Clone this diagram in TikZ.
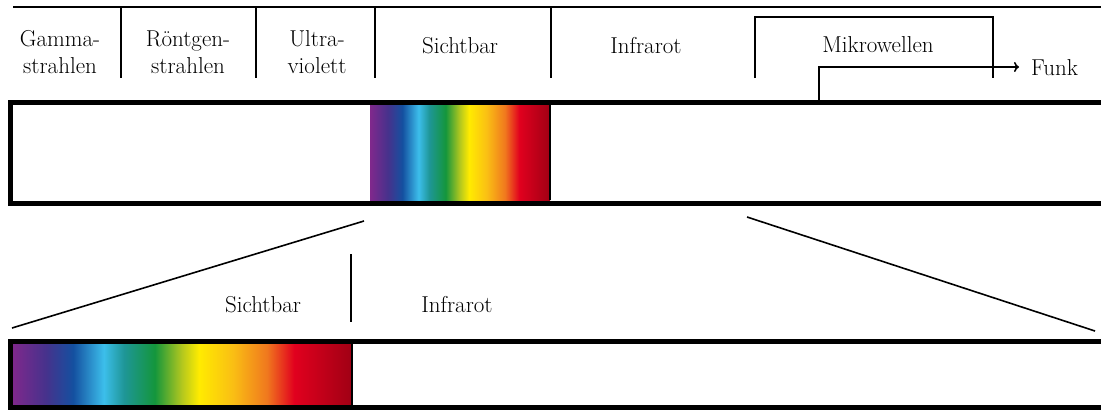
\documentclass[tikz,border=0pt]{standalone}
\usepackage{fontspec}
\usetikzlibrary{arrows.meta}
\definecolor{spA}{RGB}{128,40,140}
\definecolor{spB}{RGB}{70,50,140}
\definecolor{spC}{RGB}{20,80,160}
\definecolor{spD}{RGB}{60,190,235}
\definecolor{spE}{RGB}{30,150,150}
\definecolor{spF}{RGB}{20,150,60}
\definecolor{spG}{RGB}{180,200,30}
\definecolor{spH}{RGB}{255,235,0}
\definecolor{spI}{RGB}{250,190,20}
\definecolor{spJ}{RGB}{240,120,30}
\definecolor{spK}{RGB}{225,0,30}
\definecolor{spL}{RGB}{160,0,20}
\pgfdeclarehorizontalshading{spectrum}{100bp}{%
color(0bp)=(spA); color(25bp)=(spA); color(30bp)=(spB); color(34bp)=(spC);
color(38.5bp)=(spD); color(41.5bp)=(spE); color(46bp)=(spF); color(50bp)=(spG);
color(52.5bp)=(spH); color(57.5bp)=(spI); color(62.5bp)=(spJ); color(66.5bp)=(spK);
color(75bp)=(spL); color(100bp)=(spL)}
\begin{document}
\begin{tikzpicture}[x=1pt,y=-1pt,
  lbl/.style={font=\fontsize{23}{27}\selectfont, inner sep=0pt, anchor=base, align=center},
  thin line/.style={line width=1.6pt},
  barframe/.style={line width=5pt}]
\useasboundingbox (0,0) rectangle (1101,410);
\begin{scope}
\clip (0,0) rectangle (1101,410);
% top band
\shade[shading=spectrum] (370,104) rectangle (550,200);
\draw[line width=1.5pt] (550,104) -- (550,200);
\draw[barframe] (1115,102) -- (10,102) -- (10,203) -- (1115,203);
% bottom band
\shade[shading=spectrum] (12,343) rectangle (352,405);
\draw[line width=1.5pt] (352,343) -- (352,405);
\draw[barframe] (1115,341) -- (10,341) -- (10,407) -- (1115,407);
\end{scope}
% top scale
\coordinate (tl) at (13,7);
\coordinate (tr) at (1101,7);
\draw[thin line] (tl) -- (tr);
\foreach \x/\n in {121/a,256/b,375/c,551/d}{
  \coordinate (s\n t) at (\x,7); \coordinate (s\n b) at (\x,78);
  \draw[thin line] (s\n t) -- (s\n b);}
% Mikrowellen bracket
\coordinate (m1) at (755,78); \coordinate (m2) at (755,17);
\coordinate (m3) at (993,17); \coordinate (m4) at (993,78);
\draw[thin line] (m1) -- (m2) -- (m3) -- (m4);
% Funk arrow
\node[lbl, anchor=base west] (funk) at (1031,75) {Funk};
\coordinate (f0) at (819,100); \coordinate (f1) at (819,67); \coordinate (f2) at (1019,67);
\draw[thin line, -{To[length=5pt,width=10pt]}] (f0) -- (f1) -- (f2);
% labels (baseline of last line)
\node[lbl] (gamma) at (60,73) {Gamma-\\strahlen};
\node[lbl] (roent) at (188,73) {Röntgen-\\strahlen};
\node[lbl] (uv) at (317,73) {Ultra-\\violett};
\node[lbl] (sicht) at (460,53) {Sichtbar};
\node[lbl] (ir) at (646,53) {Infrarot};
\node[lbl] (mw) at (878,52) {Mikrowellen};
% zoom lines
\coordinate (z1) at (364,221); \coordinate (z2) at (12,328);
\coordinate (z3) at (747,217); \coordinate (z4) at (1095,331);
\draw[thin line] (z1) -- (z2);
\draw[thin line] (z3) -- (z4);
% bottom labels
\coordinate (v1) at (351,254); \coordinate (v2) at (351,322);
\draw[thin line] (v1) -- (v2);
\node[lbl] (sicht2) at (263,312) {Sichtbar};
\node[lbl] (ir2) at (457,312) {Infrarot};
\end{tikzpicture}
\end{document}
